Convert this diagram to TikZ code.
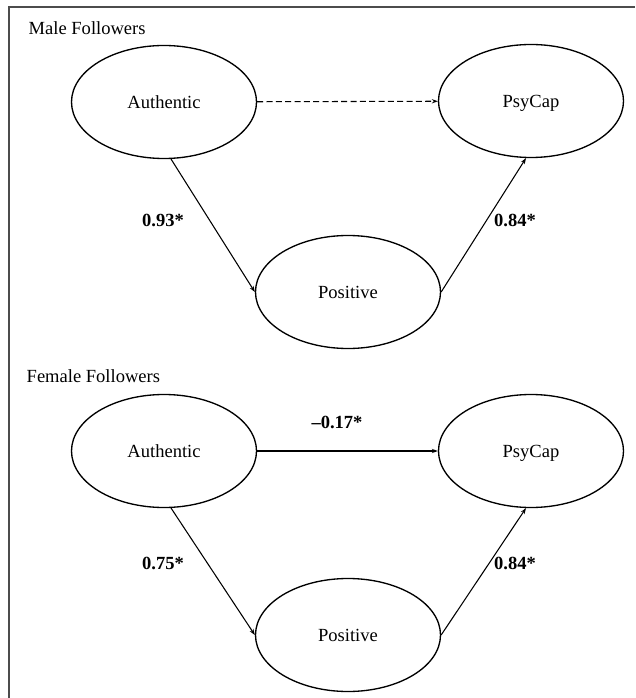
\documentclass[tikz,border=0pt]{standalone}
\usepackage{fontspec}
\setmainfont{Liberation Serif}
\usepackage{tikz}
\usetikzlibrary{arrows.meta, shapes.geometric}

\begin{document}
\begin{tikzpicture}[
    x=0.75pt, y=-0.75pt,
    every node/.style={font=\fontsize{13.9}{16}\selectfont},
    latent/.style={draw, ellipse, line width=1pt, inner sep=0pt, text depth=0pt,
        minimum width=138.75pt, minimum height=84.75pt},
    arrow/.style={-{Stealth[length=4.5pt, width=3.2pt]}, line width=0.8pt},
    coef/.style={font=\fontsize{13.9}{16}\selectfont\bfseries}
]
    \useasboundingbox (0,0) rectangle (635,698);

    % Frame
    \draw[gray!60!black, line width=1.5pt] (9,698) -- (9,7) -- (635,7);

    % Male followers
    \node[anchor=west] (maletitle) at (24,28) {Male Followers};
    \node[latent] (maleauth) at (164,102) {Authentic};
    \node[latent] (malepsy) at (531,101) {PsyCap};
    \node[latent] (malepos) at (348,292) {Positive};

    \draw[arrow, dash pattern=on 4.5pt off 2.5pt] (maleauth) -- (malepsy);
    \draw[arrow] (maleauth.-83) -- (malepos.west);
    \draw[arrow] (malepos.east) -- (malepsy.-95);

    \node[coef] (maleap) at (163,220) {0.93*};
    \node[coef] (malepp) at (515,220) {0.84*};

    % Female followers
    \node[anchor=west] (femtitle) at (22,376) {Female Followers};
    \node[latent] (femauth) at (164,451) {Authentic};
    \node[latent] (fempsy) at (531,451) {PsyCap};
    \node[latent] (fempos) at (348,635) {Positive};

    \draw[arrow] (femauth) -- (fempsy);
    \draw[arrow] (femauth.-83) -- (fempos.west);
    \draw[arrow] (fempos.east) -- (fempsy.-95);

    \node[coef] (femap) at (163,563) {0.75*};
    \node[coef] (fempp) at (515,563) {0.84*};
    \node[coef] (femaps) at (337,422) {--0.17*};

\end{tikzpicture}
\end{document}
